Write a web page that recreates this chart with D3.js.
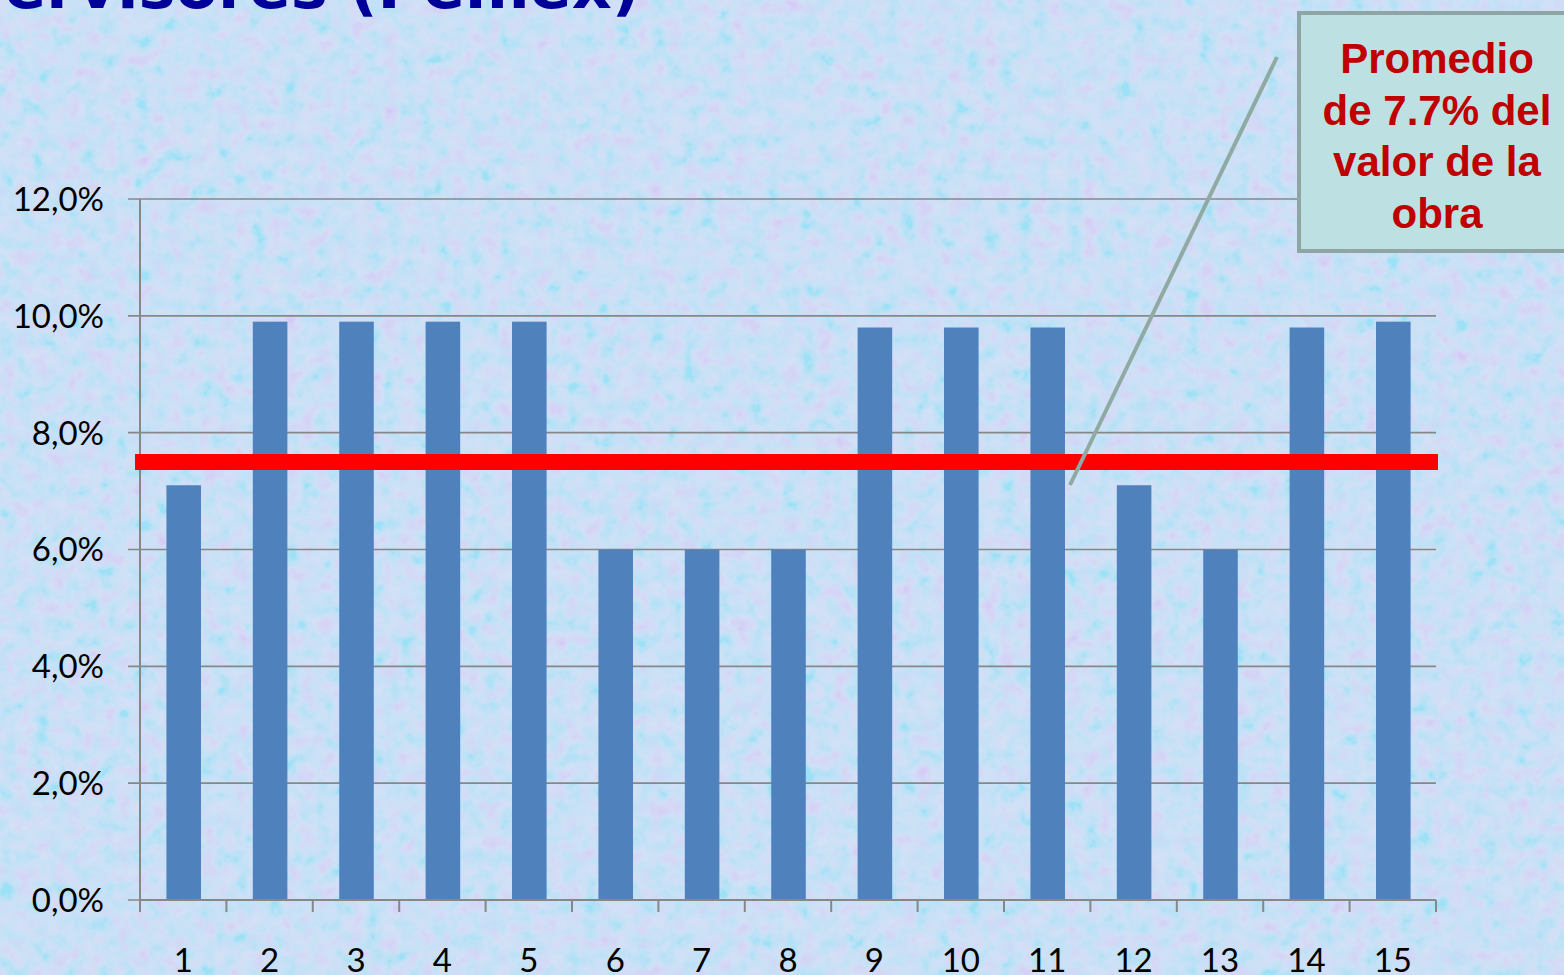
<!DOCTYPE html>
<html>
<head>
<meta charset="utf-8">
<script src="https://cdnjs.cloudflare.com/ajax/libs/d3/7.8.5/d3.min.js"></script>
<style>
  body { margin: 0; overflow: hidden; }
  svg { display: block; }
</style>
</head>
<body>
<svg id="chart" width="1564" height="975"></svg>
<script>
// chart data
var categories = ["1","2","3","4","5","6","7","8","9","10","11","12","13","14","15"];
var values = [7.1, 9.9, 9.9, 9.9, 9.9, 6.0, 6.0, 6.0, 9.8, 9.8, 9.8, 7.1, 6.0, 9.8, 9.9];
var yTicks = [0, 2, 4, 6, 8, 10, 12];
var averageLine = 7.5;
var calloutLines = ["Promedio", "de 7.7% del", "valor de la", "obra"];
var titleText = "Honorarios de supervisores (Pemex)";

var svg = d3.select("svg#chart"),
    width = +svg.attr("width"),
    height = +svg.attr("height");

var margin = {top: 199, right: 128, bottom: 75, left: 140},
    plotW = width - margin.left - margin.right,
    plotH = height - margin.top - margin.bottom;

// textured background (pale blue with pink / cyan speckle)
var defs = svg.append("defs");
var filt = defs.append("filter").attr("id", "tex")
    .attr("x", 0).attr("y", 0).attr("width", "100%").attr("height", "100%");
filt.append("feTurbulence")
    .attr("type", "fractalNoise")
    .attr("baseFrequency", 0.06)
    .attr("numOctaves", 3)
    .attr("seed", 11);
filt.append("feColorMatrix")
    .attr("type", "matrix")
    .attr("values", "1.6 -1.2 0 0 0.45  -0.6 1.4 0 0 0.6  0 0 0 0 1  0 0 0 0 0.22");

svg.append("rect").attr("width", width).attr("height", height).attr("fill", "#c8d9f4");
svg.append("rect").attr("width", width).attr("height", height).attr("filter", "url(#tex)");

// title, mostly cut by the top edge
svg.append("text")
    .attr("x", 640).attr("y", 8)
    .attr("text-anchor", "end")
    .style("font-family", "'DejaVu Sans', sans-serif")
    .style("font-weight", "bold")
    .style("font-size", "62px")
    .style("fill", "#000099")
    .text(titleText);

var g = svg.append("g")
    .attr("transform", "translate(" + margin.left + "," + margin.top + ")");

var x = d3.scaleBand().domain(categories).range([0, plotW]).paddingInner(0.6).paddingOuter(0.3);
var xb = d3.scaleBand().domain(categories).range([0, plotW]);
var y = d3.scaleLinear().domain([0, 12]).range([plotH, 0]);

// gridlines
g.append("g")
    .selectAll("line")
    .data(yTicks)
    .join("line")
    .attr("x1", -12).attr("x2", plotW)
    .attr("y1", function(d) { return y(d); })
    .attr("y2", function(d) { return y(d); })
    .attr("stroke", "#878787")
    .attr("stroke-width", 1.6);

// y axis labels
g.append("g")
    .selectAll("text")
    .data(yTicks)
    .join("text")
    .attr("x", -36)
    .attr("y", function(d) { return y(d); })
    .attr("dy", "0.36em")
    .attr("text-anchor", "end")
    .style("font-family", "Lato, sans-serif")
    .style("font-size", "33px")
    .style("fill", "#000")
    .text(function(d) { return d3.format(".1f")(d).replace(".", ",") + "%"; });

// bars
g.append("g")
    .selectAll("rect")
    .data(values)
    .join("rect")
    .attr("x", function(d, i) { return x(categories[i]) + 0.5; })
    .attr("y", function(d) { return y(d); })
    .attr("width", x.bandwidth())
    .attr("height", function(d) { return plotH - y(d); })
    .attr("fill", "#4f81bd");

// axes lines
g.append("line")
    .attr("x1", 0).attr("x2", 0).attr("y1", 0).attr("y2", plotH)
    .attr("stroke", "#878787").attr("stroke-width", 2);
g.append("line")
    .attr("x1", 0).attr("x2", plotW).attr("y1", plotH).attr("y2", plotH)
    .attr("stroke", "#878787").attr("stroke-width", 2);

// x ticks at category boundaries
var bounds = categories.map(function(c) { return xb(c); }).concat([plotW]);
g.append("g")
    .selectAll("line")
    .data(bounds)
    .join("line")
    .attr("x1", function(d) { return d; }).attr("x2", function(d) { return d; })
    .attr("y1", plotH).attr("y2", plotH + 12)
    .attr("stroke", "#878787").attr("stroke-width", 2);

// x labels
g.append("g")
    .selectAll("text")
    .data(categories)
    .join("text")
    .attr("x", function(d) { return xb(d) + xb.bandwidth() / 2; })
    .attr("y", plotH + 72)
    .attr("text-anchor", "middle")
    .style("font-family", "Lato, sans-serif")
    .style("font-size", "33px")
    .style("fill", "#000")
    .text(function(d) { return d; });

// average line
g.append("line")
    .attr("x1", -5).attr("x2", plotW + 2)
    .attr("y1", y(averageLine)).attr("y2", y(averageLine))
    .attr("stroke", "#ff0000").attr("stroke-width", 16);

// callout pointer
svg.append("line")
    .attr("x1", 1277).attr("y1", 57)
    .attr("x2", 1070).attr("y2", 485)
    .attr("stroke", "#8fa9a3").attr("stroke-width", 4);

// callout box
svg.append("rect")
    .attr("x", 1299).attr("y", 13)
    .attr("width", 280).attr("height", 238)
    .attr("fill", "#bde0e3")
    .attr("stroke", "#8fa5a5").attr("stroke-width", 4);

svg.append("g")
    .selectAll("text")
    .data(calloutLines)
    .join("text")
    .attr("x", 1437)
    .attr("y", function(d, i) { return 73 + i * 51.5; })
    .attr("text-anchor", "middle")
    .style("font-family", "'Liberation Sans', Arial, sans-serif")
    .style("font-weight", "bold")
    .style("font-size", "42px")
    .style("fill", "#c00000")
    .text(function(d) { return d; });
</script>
</body>
</html>
